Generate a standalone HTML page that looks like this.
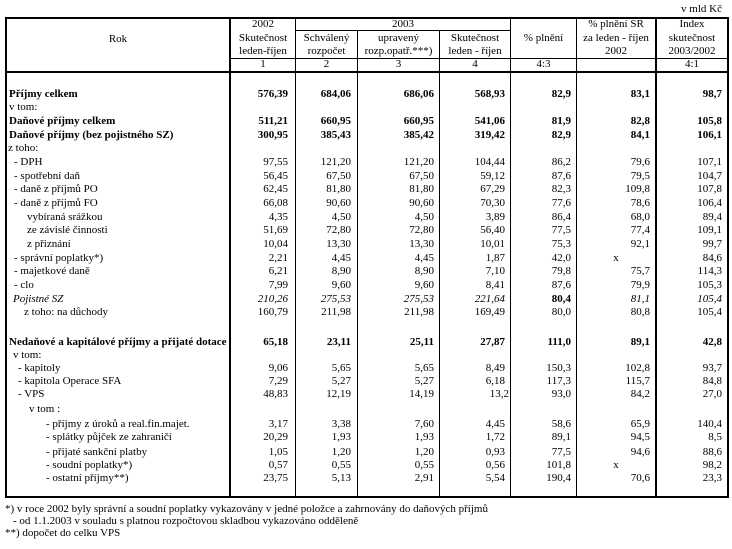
<!DOCTYPE html>
<html><head><meta charset="utf-8"><style>
html,body{margin:0;padding:0;background:#fff;}
#p{position:relative;width:732px;height:549px;overflow:hidden;background:#fff;font-family:"Liberation Serif","Times New Roman",serif;font-size:11px;color:#000;}
.h{position:absolute;background:#000;}
.t{position:absolute;line-height:14px;height:14px;white-space:nowrap;}
.c{text-align:center;}
.r{position:absolute;left:0;width:732px;height:14px;}
.r span{position:absolute;top:0;line-height:14px;white-space:nowrap;}
.b span{font-weight:bold;}
.i span{font-style:italic;}
.n1{right:444px}.n2{right:381px}.n3{right:298px}.n4{right:227px}.n5{right:161px}.n6{right:82px}.n7{right:10px}
.x6{left:577px;width:78px;text-align:center;}
</style></head><body><div id="p">
<!-- lines -->
<div class="h" style="left:5px;top:17px;width:724px;height:2px"></div>
<div class="h" style="left:295px;top:30px;width:216px;height:1px"></div>
<div class="h" style="left:231px;top:58px;width:496px;height:1px"></div>
<div class="h" style="left:5px;top:71px;width:724px;height:2px"></div>
<div class="h" style="left:5px;top:496px;width:724px;height:2px"></div>
<div class="h" style="left:5px;top:17px;width:2px;height:481px"></div>
<div class="h" style="left:229px;top:17px;width:2px;height:481px"></div>
<div class="h" style="left:295px;top:17px;width:1px;height:481px"></div>
<div class="h" style="left:357px;top:30px;width:1px;height:468px"></div>
<div class="h" style="left:439px;top:30px;width:1px;height:468px"></div>
<div class="h" style="left:510px;top:17px;width:1px;height:481px"></div>
<div class="h" style="left:576px;top:17px;width:1px;height:481px"></div>
<div class="h" style="left:655px;top:17px;width:2px;height:481px"></div>
<div class="h" style="left:727px;top:17px;width:2px;height:481px"></div>

<!-- header -->
<div class="t" style="right:10px;top:2px">v mld Kč</div>
<div class="t c" style="left:7px;width:222px;top:32px">Rok</div>

<div class="t c" style="left:231px;width:64px;top:17px">2002</div>
<div class="t c" style="left:231px;width:64px;top:31px">Skutečnost</div>
<div class="t c" style="left:231px;width:64px;top:44px">leden-říjen</div>
<div class="t c" style="left:231px;width:64px;top:57px">1</div>

<div class="t c" style="left:296px;width:214px;top:17px">2003</div>
<div class="t c" style="left:296px;width:61px;top:31px">Schválený</div>
<div class="t c" style="left:296px;width:61px;top:44px">rozpočet</div>
<div class="t c" style="left:296px;width:61px;top:57px">2</div>

<div class="t c" style="left:358px;width:81px;top:31px">upravený</div>
<div class="t c" style="left:358px;width:81px;top:44px">rozp.opatř.***)</div>
<div class="t c" style="left:358px;width:81px;top:57px">3</div>

<div class="t c" style="left:440px;width:70px;top:31px">Skutečnost</div>
<div class="t c" style="left:440px;width:70px;top:44px">leden - říjen</div>
<div class="t c" style="left:440px;width:70px;top:57px">4</div>

<div class="t c" style="left:511px;width:65px;top:31px">% plnění</div>
<div class="t c" style="left:511px;width:65px;top:57px">4:3</div>

<div class="t c" style="left:577px;width:78px;top:17px">% plnění SR</div>
<div class="t c" style="left:577px;width:78px;top:31px">za leden - říjen</div>
<div class="t c" style="left:577px;width:78px;top:44px">2002</div>

<div class="t c" style="left:657px;width:70px;top:17px">Index</div>
<div class="t c" style="left:657px;width:70px;top:31px">skutečnost</div>
<div class="t c" style="left:657px;width:70px;top:44px">2003/2002</div>
<div class="t c" style="left:657px;width:70px;top:57px">4:1</div>

<!-- body -->
<div class="r b" style="top:87px"><span style="left:9px">Příjmy celkem</span><span class="n1">576,39</span><span class="n2">684,06</span><span class="n3">686,06</span><span class="n4">568,93</span><span class="n5">82,9</span><span class="n6">83,1</span><span class="n7">98,7</span></div>
<div class="r" style="top:100px"><span style="left:9px">v tom:</span></div>
<div class="r b" style="top:114px"><span style="left:9px">Daňové příjmy celkem</span><span class="n1">511,21</span><span class="n2">660,95</span><span class="n3">660,95</span><span class="n4">541,06</span><span class="n5">81,9</span><span class="n6">82,8</span><span class="n7">105,8</span></div>
<div class="r b" style="top:128px"><span style="left:9px">Daňové příjmy (bez pojistného SZ)</span><span class="n1">300,95</span><span class="n2">385,43</span><span class="n3">385,42</span><span class="n4">319,42</span><span class="n5">82,9</span><span class="n6">84,1</span><span class="n7">106,1</span></div>
<div class="r" style="top:141px"><span style="left:8px">z toho:</span></div>
<div class="r" style="top:155px"><span style="left:14px">- DPH</span><span class="n1">97,55</span><span class="n2">121,20</span><span class="n3">121,20</span><span class="n4">104,44</span><span class="n5">86,2</span><span class="n6">79,6</span><span class="n7">107,1</span></div>
<div class="r" style="top:169px"><span style="left:14px">- spotřební daň</span><span class="n1">56,45</span><span class="n2">67,50</span><span class="n3">67,50</span><span class="n4">59,12</span><span class="n5">87,6</span><span class="n6">79,5</span><span class="n7">104,7</span></div>
<div class="r" style="top:182px"><span style="left:14px">- daně z příjmů PO</span><span class="n1">62,45</span><span class="n2">81,80</span><span class="n3">81,80</span><span class="n4">67,29</span><span class="n5">82,3</span><span class="n6">109,8</span><span class="n7">107,8</span></div>
<div class="r" style="top:196px"><span style="left:14px">- daně z příjmů FO</span><span class="n1">66,08</span><span class="n2">90,60</span><span class="n3">90,60</span><span class="n4">70,30</span><span class="n5">77,6</span><span class="n6">78,6</span><span class="n7">106,4</span></div>
<div class="r" style="top:210px"><span style="left:27px">vybíraná srážkou</span><span class="n1">4,35</span><span class="n2">4,50</span><span class="n3">4,50</span><span class="n4">3,89</span><span class="n5">86,4</span><span class="n6">68,0</span><span class="n7">89,4</span></div>
<div class="r" style="top:223px"><span style="left:27px">ze závislé činnosti</span><span class="n1">51,69</span><span class="n2">72,80</span><span class="n3">72,80</span><span class="n4">56,40</span><span class="n5">77,5</span><span class="n6">77,4</span><span class="n7">109,1</span></div>
<div class="r" style="top:237px"><span style="left:27px">z přiznání</span><span class="n1">10,04</span><span class="n2">13,30</span><span class="n3">13,30</span><span class="n4">10,01</span><span class="n5">75,3</span><span class="n6">92,1</span><span class="n7">99,7</span></div>
<div class="r" style="top:251px"><span style="left:14px">- správní poplatky*)</span><span class="n1">2,21</span><span class="n2">4,45</span><span class="n3">4,45</span><span class="n4">1,87</span><span class="n5">42,0</span><span class="x6">x</span><span class="n7">84,6</span></div>
<div class="r" style="top:264px"><span style="left:14px">- majetkové daně</span><span class="n1">6,21</span><span class="n2">8,90</span><span class="n3">8,90</span><span class="n4">7,10</span><span class="n5">79,8</span><span class="n6">75,7</span><span class="n7">114,3</span></div>
<div class="r" style="top:278px"><span style="left:14px">- clo</span><span class="n1">7,99</span><span class="n2">9,60</span><span class="n3">9,60</span><span class="n4">8,41</span><span class="n5">87,6</span><span class="n6">79,9</span><span class="n7">105,3</span></div>
<div class="r i" style="top:292px"><span style="left:13px">Pojistné SZ</span><span class="n1">210,26</span><span class="n2">275,53</span><span class="n3">275,53</span><span class="n4">221,64</span><span class="n5" style="font-weight:bold;font-style:normal">80,4</span><span class="n6">81,1</span><span class="n7">105,4</span></div>
<div class="r" style="top:305px"><span style="left:24px">z toho: na důchody</span><span class="n1">160,79</span><span class="n2">211,98</span><span class="n3">211,98</span><span class="n4">169,49</span><span class="n5">80,0</span><span class="n6">80,8</span><span class="n7">105,4</span></div>

<div class="r b" style="top:335px"><span style="left:9px">Nedaňové a kapitálové příjmy a přijaté dotace</span><span class="n1">65,18</span><span class="n2">23,11</span><span class="n3">25,11</span><span class="n4">27,87</span><span class="n5">111,0</span><span class="n6">89,1</span><span class="n7">42,8</span></div>
<div class="r" style="top:348px"><span style="left:13px">v tom:</span></div>
<div class="r" style="top:361px"><span style="left:18px">- kapitoly</span><span class="n1">9,06</span><span class="n2">5,65</span><span class="n3">5,65</span><span class="n4">8,49</span><span class="n5">150,3</span><span class="n6">102,8</span><span class="n7">93,7</span></div>
<div class="r" style="top:374px"><span style="left:18px">- kapitola Operace SFA</span><span class="n1">7,29</span><span class="n2">5,27</span><span class="n3">5,27</span><span class="n4">6,18</span><span class="n5">117,3</span><span class="n6">115,7</span><span class="n7">84,8</span></div>
<div class="r" style="top:387px"><span style="left:18px">- VPS</span><span class="n1">48,83</span><span class="n2">12,19</span><span class="n3">14,19</span><span class="n4" style="right:223px">13,2</span><span class="n5">93,0</span><span class="n6">84,2</span><span class="n7">27,0</span></div>
<div class="r" style="top:402px"><span style="left:29px">v tom :</span></div>
<div class="r" style="top:417px"><span style="left:46px">- příjmy z úroků a real.fin.majet.</span><span class="n1">3,17</span><span class="n2">3,38</span><span class="n3">7,60</span><span class="n4">4,45</span><span class="n5">58,6</span><span class="n6">65,9</span><span class="n7">140,4</span></div>
<div class="r" style="top:430px"><span style="left:46px">- splátky půjček ze zahraničí</span><span class="n1">20,29</span><span class="n2">1,93</span><span class="n3">1,93</span><span class="n4">1,72</span><span class="n5">89,1</span><span class="n6">94,5</span><span class="n7">8,5</span></div>
<div class="r" style="top:445px"><span style="left:46px">- přijaté sankční platby</span><span class="n1">1,05</span><span class="n2">1,20</span><span class="n3">1,20</span><span class="n4">0,93</span><span class="n5">77,5</span><span class="n6">94,6</span><span class="n7">88,6</span></div>
<div class="r" style="top:458px"><span style="left:46px">- soudní poplatky*)</span><span class="n1">0,57</span><span class="n2">0,55</span><span class="n3">0,55</span><span class="n4">0,56</span><span class="n5">101,8</span><span class="x6">x</span><span class="n7">98,2</span></div>
<div class="r" style="top:471px"><span style="left:46px">- ostatní příjmy**)</span><span class="n1">23,75</span><span class="n2">5,13</span><span class="n3">2,91</span><span class="n4">5,54</span><span class="n5">190,4</span><span class="n6">70,6</span><span class="n7">23,3</span></div>

<!-- footnotes -->
<div class="t" style="left:5px;top:502px">*) v roce 2002 byly správní a soudní poplatky vykazovány v jedné položce a zahrnovány do daňových příjmů</div>
<div class="t" style="left:13px;top:514px">- od 1.1.2003 v souladu s platnou rozpočtovou skladbou vykazováno odděleně</div>
<div class="t" style="left:5px;top:526px">**) dopočet do celku VPS</div>
</div></body></html>
